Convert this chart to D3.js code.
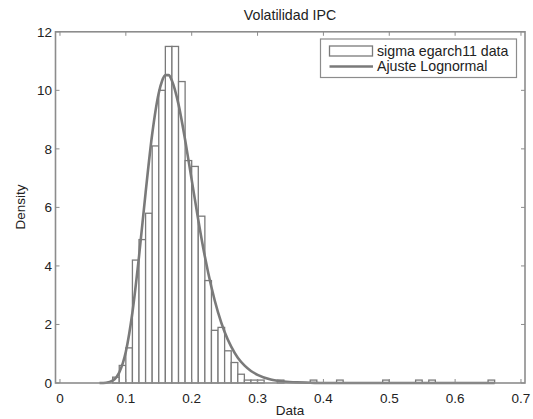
<!DOCTYPE html>
<html>
<head>
<meta charset="utf-8">
<script src="https://cdn.jsdelivr.net/npm/d3@7"></script>
<style>
  html, body { margin: 0; padding: 0; background: #fff; }
  text { font-family: "Liberation Sans", Arial, sans-serif; fill: #222; }
</style>
</head>
<body>
<svg id="chart" width="533" height="419"></svg>
<script>
// ---- data ----
const binWidth = 0.01;
const binStarts  = [0.08, 0.09, 0.10, 0.11, 0.12, 0.13, 0.14, 0.15, 0.16, 0.17, 0.18, 0.19, 0.20, 0.21, 0.22, 0.23, 0.24, 0.25, 0.26, 0.27, 0.28, 0.29, 0.30, 0.33, 0.38, 0.42, 0.49, 0.54, 0.56, 0.65];
const binDensity = [0.2,  0.6,  1.2,  4.2,  4.9,  5.8,  8.1,  10.0, 11.5, 11.5, 10.3, 7.6,  7.4,  5.7,  3.5,  1.8,  1.9,  1.1,  0.7,  0.3,  0.1,  0.1,  0.1,  0.1,  0.1,  0.1,  0.1,  0.1,  0.1,  0.1];

const fitX       = [0.06, 0.07, 0.08, 0.09, 0.10, 0.11, 0.12, 0.13, 0.14, 0.15, 0.155, 0.16, 0.165, 0.17, 0.18, 0.19, 0.20, 0.21, 0.22, 0.23, 0.24, 0.25, 0.26, 0.27, 0.28, 0.29, 0.30, 0.32, 0.34, 0.36, 0.38, 0.40, 0.45, 0.55, 0.66];
const fitDensity = [0.0,  0.01, 0.08, 0.36, 1.07, 2.41, 4.32, 6.50, 8.50, 9.91, 10.32, 10.52, 10.52, 10.33, 9.52, 8.31, 6.94, 5.57, 4.32, 3.27, 2.41, 1.74, 1.24, 0.86, 0.60, 0.41, 0.28, 0.12, 0.05, 0.02, 0.01, 0.0, 0.0, 0.0, 0.0];

const xTicks = [0, 0.1, 0.2, 0.3, 0.4, 0.5, 0.6, 0.7];
const xTickLabels = ["0", "0.1", "0.2", "0.3", "0.4", "0.5", "0.6", "0.7"];
const yTicks = [0, 2, 4, 6, 8, 10, 12];
const yTickLabels = ["0", "2", "4", "6", "8", "10", "12"];

const titleText = "Volatilidad IPC";
const xLabel = "Data";
const yLabel = "Density";
const legendLabels = ["sigma egarch11 data", "Ajuste Lognormal"];

// ---- layout ----
const L = 55.5, R = 525, T = 31.8, B = 383;
const svg = d3.select("#chart");
const x = d3.scaleLinear().domain([-0.0068, 0.7061]).range([L, R]);
const y = d3.scaleLinear().domain([0, 12]).range([B, T]);

const gray = "#7a7a7a";
const axisGray = "#8c8c8c";

// bars
svg.append("g").selectAll("rect")
  .data(binStarts.map((s, i) => ({ s, d: binDensity[i] })))
  .join("rect")
  .attr("x", d => x(d.s))
  .attr("y", d => y(d.d))
  .attr("width", d => x(d.s + binWidth) - x(d.s))
  .attr("height", d => y(0) - y(d.d))
  .attr("fill", "#fff")
  .attr("stroke", gray)
  .attr("stroke-width", 1.3);

// fit curve
const line = d3.line()
  .x((d, i) => x(fitX[i]))
  .y(d => y(d))
  .curve(d3.curveMonotoneX);
svg.append("path")
  .attr("d", line(fitDensity))
  .attr("fill", "none")
  .attr("stroke", gray)
  .attr("stroke-width", 2.6);

// axes box
svg.append("rect")
  .attr("x", L).attr("y", T).attr("width", R - L).attr("height", B - T)
  .attr("fill", "none").attr("stroke", axisGray).attr("stroke-width", 1.6);

const tl = 4;
const ax = svg.append("g").attr("stroke", axisGray).attr("stroke-width", 1);
xTicks.forEach(v => {
  ax.append("line").attr("x1", x(v)).attr("x2", x(v)).attr("y1", B).attr("y2", B - tl);
  ax.append("line").attr("x1", x(v)).attr("x2", x(v)).attr("y1", T).attr("y2", T + tl);
});
yTicks.forEach(v => {
  ax.append("line").attr("x1", L).attr("x2", L + tl).attr("y1", y(v)).attr("y2", y(v));
  ax.append("line").attr("x1", R).attr("x2", R - tl).attr("y1", y(v)).attr("y2", y(v));
});

// tick labels
svg.append("g").selectAll("text").data(xTicks).join("text")
  .attr("x", d => x(d)).attr("y", 402.5)
  .attr("text-anchor", "middle").attr("font-size", 13.5)
  .text((d, i) => xTickLabels[i]);
svg.append("g").selectAll("text").data(yTicks).join("text")
  .attr("x", 52).attr("y", d => y(d) + 4.8)
  .attr("text-anchor", "end").attr("font-size", 13.5)
  .text((d, i) => yTickLabels[i]);

// title and axis labels
svg.append("text").attr("x", 290).attr("y", 19.5)
  .attr("text-anchor", "middle").attr("font-size", 14.2).text(titleText);
svg.append("text").attr("x", 290).attr("y", 415)
  .attr("text-anchor", "middle").attr("font-size", 13.5).text(xLabel);
svg.append("text").attr("transform", "translate(25,207) rotate(-90)")
  .attr("text-anchor", "middle").attr("font-size", 13.5).text(yLabel);

// legend
const lg = svg.append("g");
lg.append("rect").attr("x", 320.5).attr("y", 39).attr("width", 196).attr("height", 38.5)
  .attr("fill", "#fff").attr("stroke", axisGray).attr("stroke-width", 1.2);
lg.append("rect").attr("x", 329.5).attr("y", 46).attr("width", 43).attr("height", 10)
  .attr("fill", "#fff").attr("stroke", gray).attr("stroke-width", 1.3);
lg.append("line").attr("x1", 329.5).attr("x2", 373).attr("y1", 66.5).attr("y2", 66.5)
  .attr("stroke", gray).attr("stroke-width", 2.6);
lg.append("text").attr("x", 377).attr("y", 56).attr("font-size", 14.2).text(legendLabels[0]);
lg.append("text").attr("x", 377).attr("y", 71).attr("font-size", 14.2).text(legendLabels[1]);
</script>
</body>
</html>
